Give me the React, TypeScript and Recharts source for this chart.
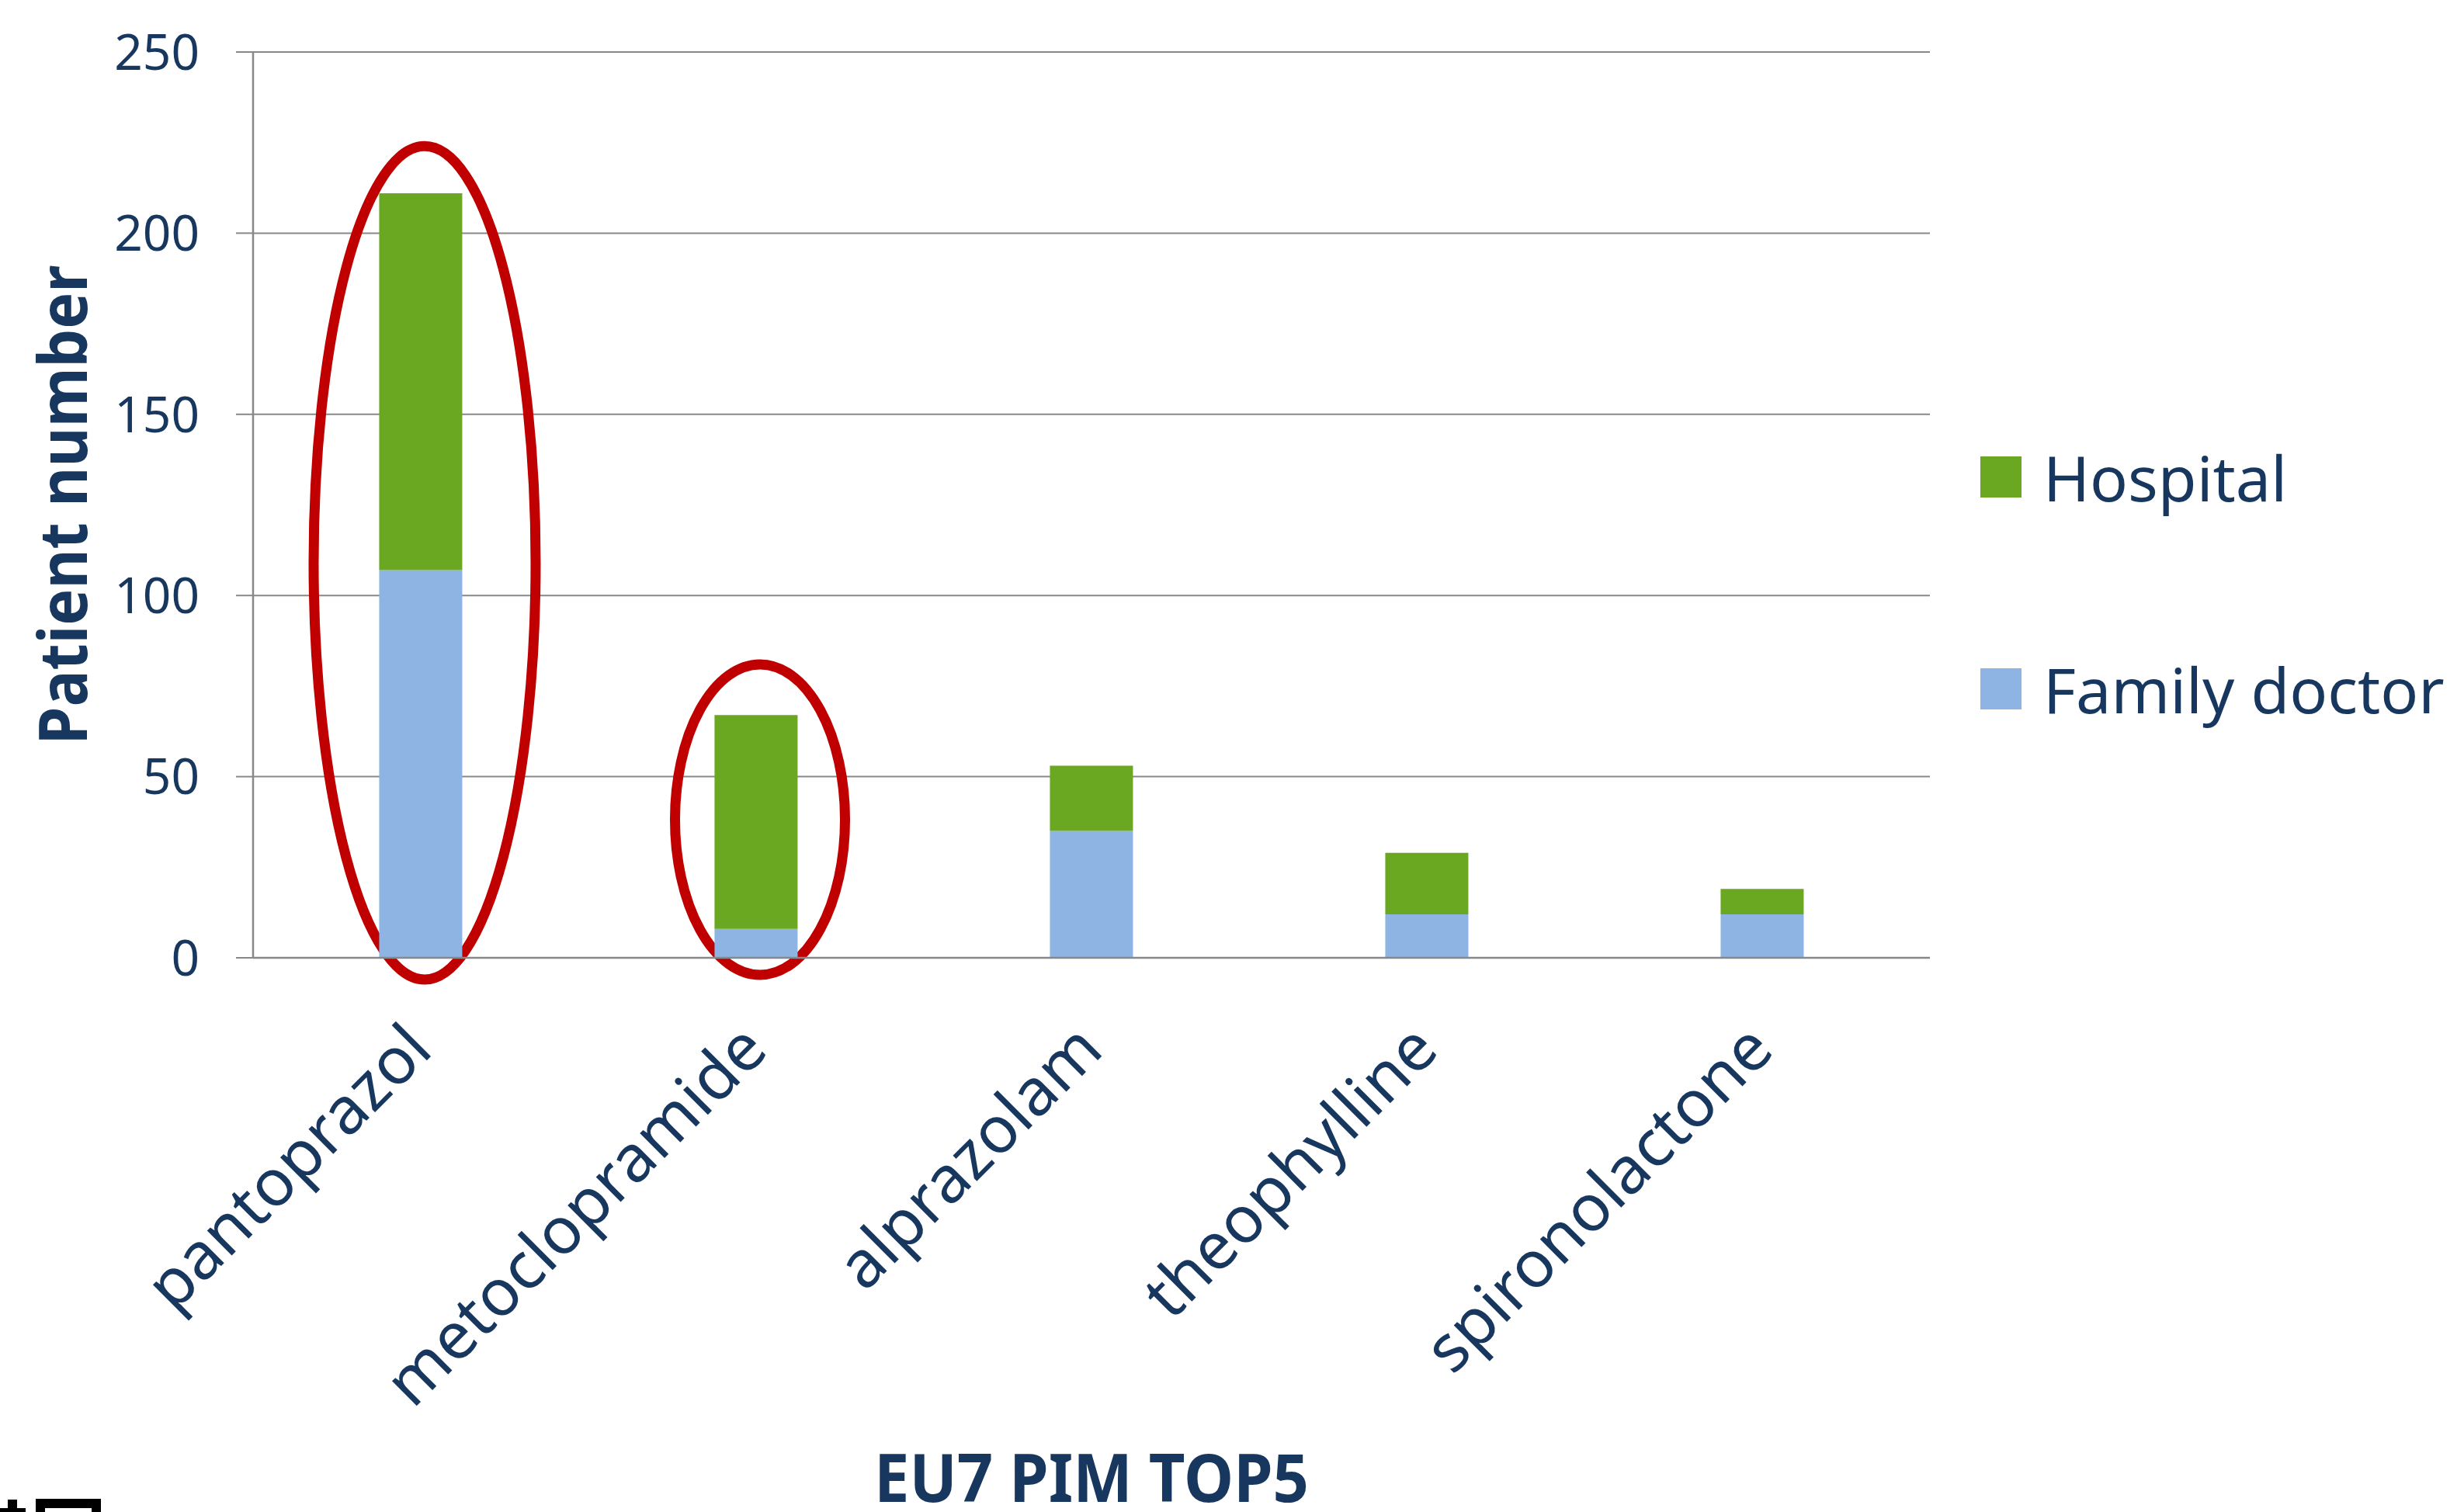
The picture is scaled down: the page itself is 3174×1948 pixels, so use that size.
import { BarChart, Bar, XAxis, YAxis, CartesianGrid, Legend, Label, ReferenceArea } from 'recharts'

const drugs = ['pantoprazol', 'metoclopramide', 'alprazolam', 'theophylline', 'spironolactone']
const familyDoctor = [107, 8, 35, 12, 12]
const hospital = [104, 59, 18, 17, 7]
const yTicks = [0, 50, 100, 150, 200, 250]

// red circles drawn around the first two drugs
const circledDrugs = ['pantoprazol', 'metoclopramide']
const circleLow = [-6, -4.7]
const circleHigh = [224, 81]
const circleWidth = [0.662, 0.507]

const NAVY = '#17375E'
const GREEN = '#6AA822'
const BLUE = '#8EB4E3'
const GRID = '#888888'
const FONT = '"Noto Sans", sans-serif'

const chartData = drugs.map((name, i) => ({
  name,
  family: familyDoctor[i],
  hospital: hospital[i]
}))

const CategoryTick = ({ x, y, payload }: any) => {
  const tx = x + 18
  const ty = y + 122
  return (
    <text
      x={tx}
      y={ty}
      transform={`rotate(-45, ${tx}, ${ty})`}
      textAnchor="end"
      fill={NAVY}
      fontSize={84}
      fontFamily={FONT}
    >
      {payload.value}
    </text>
  )
}

const LegendContent = ({ payload }: any) => {
  const items = [...(payload || [])].reverse()
  return (
    <div style={{ fontFamily: FONT }}>
      {items.map((item: any) => (
        <div
          key={item.value}
          style={{ display: 'flex', alignItems: 'center', height: 120, marginBottom: 153 }}
        >
          <div style={{ width: 53, height: 53, backgroundColor: item.color, marginRight: 28 }} />
          <span style={{ color: NAVY, fontSize: 81, lineHeight: 1 }}>{item.value}</span>
        </div>
      ))}
    </div>
  )
}

const ellipseShape = (widthRatio: number) => (props: any) => {
  const { x, y, width, height } = props
  return (
    <ellipse
      cx={x + width / 2 + 5}
      cy={y + height / 2}
      rx={(width * widthRatio) / 2}
      ry={Math.abs(height) / 2}
      fill="none"
      stroke="#C00000"
      strokeWidth={13}
    />
  )
}

export default function App() {
  return (
    <div style={{ position: 'absolute', left: 0, top: 0, width: 3174, height: 1948, background: '#fff' }}>
      <BarChart
        width={3174}
        height={1948}
        data={chartData}
        margin={{ top: 67, right: 688, left: 96, bottom: 0 }}
        barCategoryGap="37.6%"
      >
        <CartesianGrid vertical={false} stroke={GRID} strokeWidth={2} />
        <XAxis
          dataKey="name"
          height={714}
          tickLine={false}
          tickSize={0}
          tickMargin={0}
          axisLine={{ stroke: GRID, strokeWidth: 2.5 }}
          tick={<CategoryTick />}
          interval={0}
        >
          <Label
            content={({ viewBox }: any) => (
              <text
                x={viewBox.x + viewBox.width / 2}
                y={viewBox.y + viewBox.height - 13}
                textAnchor="middle"
                fill={NAVY}
                fontSize={86}
                fontWeight="bold"
                fontFamily={FONT}
                textLength={560}
                lengthAdjust="spacingAndGlyphs"
              >
                EU7 PIM TOP5
              </text>
            )}
          />
        </XAxis>
        <YAxis
          width={230}
          domain={[0, 250]}
          ticks={yTicks}
          tickSize={22}
          tickMargin={47}
          tickLine={{ stroke: GRID, strokeWidth: 2 }}
          axisLine={{ stroke: GRID, strokeWidth: 2.5 }}
          tick={{ fill: NAVY, fontSize: 64, fontFamily: FONT }}
        >
          <Label
            content={({ viewBox }: any) => {
              const lx = viewBox.x + 16
              const ly = viewBox.y + viewBox.height / 2
              return (
                <text
                  x={lx}
                  y={ly}
                  transform={`rotate(-90, ${lx}, ${ly})`}
                  textAnchor="middle"
                  fill={NAVY}
                  fontSize={86}
                  fontWeight="bold"
                  fontFamily={FONT}
                  textLength={618}
                  lengthAdjust="spacingAndGlyphs"
                >
                  Patient number
                </text>
              )
            }}
          />
        </YAxis>
        <Legend
          layout="vertical"
          align="center"
          verticalAlign="middle"
          content={<LegendContent />}
          wrapperStyle={{ left: 2551, top: 554, width: 620 }}
        />
        <Bar dataKey="family" name="Family doctor" stackId="a" fill={BLUE} isAnimationActive={false} />
        <Bar dataKey="hospital" name="Hospital" stackId="a" fill={GREEN} isAnimationActive={false} />
        {circledDrugs.map((drug, i) => (
          <ReferenceArea
            key={drug}
            x1={drug}
            x2={drug}
            y1={circleLow[i]}
            y2={circleHigh[i]}
            ifOverflow="visible"
            shape={ellipseShape(circleWidth[i])}
          />
        ))}
      </BarChart>
      <div style={{ position: 'absolute', left: 10, top: 1932, width: 12, height: 11, background: '#000' }} />
      <div style={{ position: 'absolute', left: 0, top: 1943, width: 33, height: 5, background: '#000' }} />
      <div
        style={{
          position: 'absolute',
          left: 46,
          top: 1931,
          width: 84,
          height: 40,
          boxSizing: 'border-box',
          border: '12px solid #000'
        }}
      />
    </div>
  )
}
